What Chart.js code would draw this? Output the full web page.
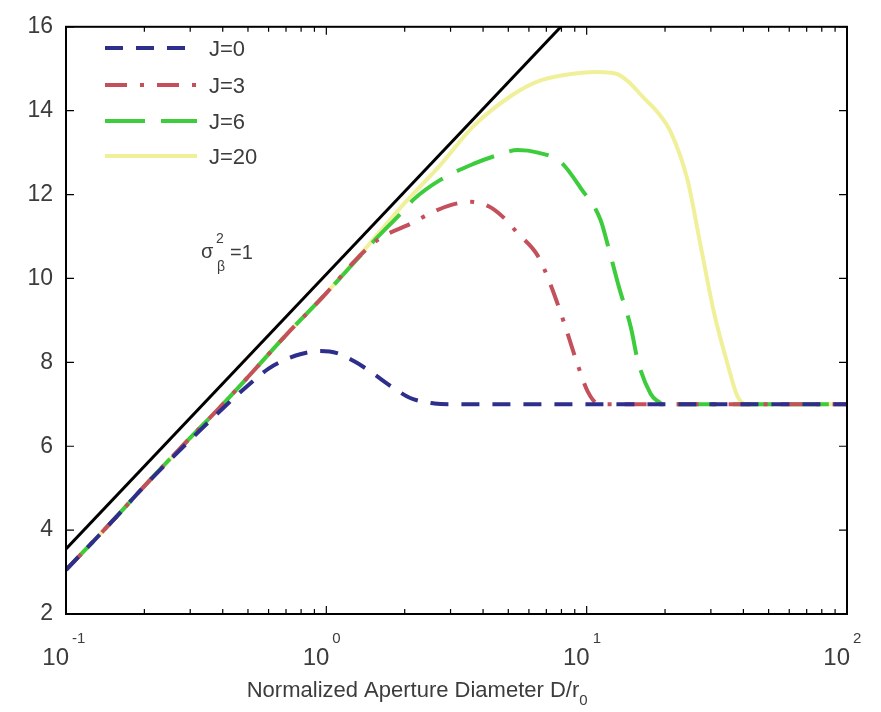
<!DOCTYPE html>
<html>
<head>
<meta charset="utf-8">
<script src="https://cdn.jsdelivr.net/npm/chart.js@4.4.1/dist/chart.umd.min.js"></script>
<style>
  html, body { margin: 0; padding: 0; background: #fff; }
  #wrap { width: 881px; height: 712px; }
</style>
</head>
<body>
<div id="wrap"><canvas id="apertureChart"></canvas></div>
<script>
// values (x = D/r0, log axis)
const seriesNames = ['J=0', 'J=3', 'J=6', 'J=20'];
const xTickExponents = ['-1', '0', '1', '2'];
const yTickValues = [2, 4, 6, 8, 10, 12, 14, 16];

const limitX = [0.1, 1, 10];
const limitY = [3.55, 10.1, 16.65];

const j0X = [0.1, 0.15, 0.2, 0.3, 0.4, 0.5, 0.6, 0.7, 0.8, 0.95, 1.1, 1.3, 1.5, 1.8, 2.1, 2.6, 3, 100];
const j0Y = [3.05, 4.2, 5.05, 6.15, 6.9, 7.45, 7.85, 8.07, 8.2, 8.27, 8.22, 8.0, 7.75, 7.4, 7.15, 7.02, 7.0, 7.0];

const j3X = [0.1, 0.15, 0.2, 0.3, 0.4, 0.5, 0.7, 1.0, 1.3, 1.6, 2.1, 2.6, 3.0, 3.58, 4.2, 4.8, 5.43, 6.49, 7.28, 8.17, 9.23, 10.1, 11, 12, 100];
const j3Y = [3.05, 4.2, 5.05, 6.2, 7.0, 7.65, 8.65, 9.65, 10.45, 10.95, 11.3, 11.6, 11.75, 11.83, 11.72, 11.45, 11.08, 10.54, 9.84, 8.96, 7.95, 7.3, 7.02, 7.0, 7.0];

const j6X = [0.1, 0.15, 0.2, 0.3, 0.4, 0.5, 0.7, 1.0, 1.5, 2.0, 2.16, 2.74, 3.67, 4.6, 5.43, 6.5, 7.94, 9.5, 11.3, 12.05, 13.3, 14.8, 15.7, 17.6, 18.7, 20, 100];
const j6Y = [3.05, 4.2, 5.05, 6.2, 7.0, 7.65, 8.65, 9.65, 10.85, 11.65, 11.88, 12.35, 12.73, 12.95, 13.06, 13.0, 12.78, 12.15, 11.4, 10.8, 9.8, 8.82, 8.05, 7.25, 7.08, 7.0, 7.0];

const j20X = [0.1, 0.15, 0.2, 0.3, 0.4, 0.5, 0.7, 1.0, 1.5, 2.0, 2.7, 3.7, 5.2, 6.5, 8.2, 11, 13, 14.4, 16.6, 18.8, 21, 24.4, 27.4, 30.8, 34.8, 38, 41, 100];
const j20Y = [3.05, 4.2, 5.05, 6.2, 7.0, 7.65, 8.65, 9.65, 10.9, 11.8, 12.66, 13.65, 14.38, 14.7, 14.85, 14.92, 14.88, 14.7, 14.3, 13.95, 13.5, 12.35, 10.78, 9.2, 7.95, 7.18, 7.0, 7.0];

const seriesColors = ['#2e2e8c', '#c4505c', '#3ccc3c', '#f0f09a'];
const seriesDash = [[18, 13], [22, 13, 4, 13], [40, 16], []];

const pts = (xs, ys) => xs.map((x, i) => ({ x: x, y: ys[i] }));

const AREA = { left: 66, right: 847, top: 18, bottom: 614 };
const TEXT = '#3c3c3c';
const FONT = '"Liberation Sans", Arial, sans-serif';

// frame, inward ticks, tick labels, legend and annotation (MATLAB-like)
const decorPlugin = {
  id: 'decor',
  afterDatasetsDraw(chart) {
    const ctx = chart.ctx;
    const xs = chart.scales.x, ys = chart.scales.y;
    const a = chart.chartArea;
    ctx.save();
    ctx.strokeStyle = '#000';
    ctx.lineWidth = 2;
    ctx.strokeRect(a.left, a.top, a.right - a.left, a.bottom - a.top);

    ctx.lineWidth = 1.2;
    ctx.beginPath();
    for (let d = -1; d < 2; d++) {
      for (let m = 1; m <= 10; m++) {
        const v = m * Math.pow(10, d);
        const px = xs.getPixelForValue(v);
        const len = (m === 1 || m === 10) ? 8 : 5;
        ctx.moveTo(px, a.bottom); ctx.lineTo(px, a.bottom - len);
        ctx.moveTo(px, a.top); ctx.lineTo(px, a.top + len);
      }
    }
    yTickValues.forEach(v => {
      const py = ys.getPixelForValue(v);
      ctx.moveTo(a.left, py); ctx.lineTo(a.left + 8, py);
      ctx.moveTo(a.right, py); ctx.lineTo(a.right - 8, py);
    });
    ctx.stroke();

    // x tick labels 10^n
    ctx.fillStyle = TEXT;
    xTickExponents.forEach(e => {
      const px = xs.getPixelForValue(Math.pow(10, Number(e)));
      ctx.font = '24px ' + FONT;
      ctx.textAlign = 'right';
      ctx.textBaseline = 'alphabetic';
      ctx.fillText('10', px + 3, 665);
      ctx.font = '15px ' + FONT;
      ctx.textAlign = 'left';
      ctx.fillText(e, px + 6, 643);
    });

    // x title
    ctx.font = '22px ' + FONT;
    ctx.textAlign = 'left';
    const main = 'Normalized Aperture Diameter D/r';
    const w = ctx.measureText(main).width;
    const x0 = 418 - (w + 10) / 2;
    ctx.fillText(main, x0, 697);
    ctx.font = '15px ' + FONT;
    ctx.fillText('0', x0 + w, 705);

    // annotation sigma^2_beta = 1
    ctx.font = '20px ' + FONT;
    ctx.fillText('σ', 201, 258);
    ctx.fillText('=1', 230, 259);
    ctx.font = '14px ' + FONT;
    ctx.fillText('2', 216, 243);
    ctx.fillText('β', 217, 271);

    // legend inside the axes
    const rows = [48, 85, 121, 156];
    seriesNames.forEach((name, i) => {
      ctx.beginPath();
      ctx.setLineDash(seriesDash[i]);
      ctx.strokeStyle = seriesColors[i];
      ctx.lineWidth = 4;
      ctx.moveTo(105, rows[i]);
      ctx.lineTo(197, rows[i]);
      ctx.stroke();
      ctx.setLineDash([]);
      ctx.font = '22px ' + FONT;
      ctx.fillStyle = TEXT;
      ctx.textBaseline = 'middle';
      ctx.fillText(name, 209, rows[i] + 2);
    });
    ctx.restore();
  }
};

const datasets = [
  { label: 'limit', data: pts(limitX, limitY), borderColor: '#000', borderWidth: 3, borderDash: [] },
  { label: seriesNames[0], data: pts(j0X, j0Y) },
  { label: seriesNames[1], data: pts(j3X, j3Y) },
  { label: seriesNames[2], data: pts(j6X, j6Y) },
  { label: seriesNames[3], data: pts(j20X, j20Y) }
];
for (let i = 1; i < datasets.length; i++) {
  datasets[i].borderColor = seriesColors[i - 1];
  datasets[i].borderDash = seriesDash[i - 1];
  datasets[i].borderWidth = 4;
}
datasets.forEach(d => {
  d.pointRadius = 0;
  d.fill = false;
  d.cubicInterpolationMode = 'monotone';
});

new Chart(document.getElementById('apertureChart'), {
  type: 'line',
  data: { datasets: datasets },
  options: {
    responsive: true,
    maintainAspectRatio: false,
    animation: false,
    layout: { padding: { left: 0, right: 881 - AREA.right, top: AREA.top, bottom: 0 } },
    plugins: { legend: { display: false }, tooltip: { enabled: false } },
    scales: {
      x: {
        type: 'logarithmic',
        min: 0.1,
        max: 100,
        grid: { display: false },
        border: { display: false },
        ticks: { display: false },
        afterFit(scale) { scale.height = 712 - AREA.bottom; }
      },
      y: {
        min: 2,
        max: 16,
        grid: { display: false, drawTicks: false },
        border: { display: false },
        afterBuildTicks(scale) { scale.ticks = yTickValues.map(v => ({ value: v })); },
        ticks: {
          color: TEXT,
          font: { size: 23, family: FONT },
          padding: 13
        },
        afterFit(scale) { scale.width = AREA.left; }
      }
    }
  },
  plugins: [decorPlugin]
});
</script>
</body>
</html>
